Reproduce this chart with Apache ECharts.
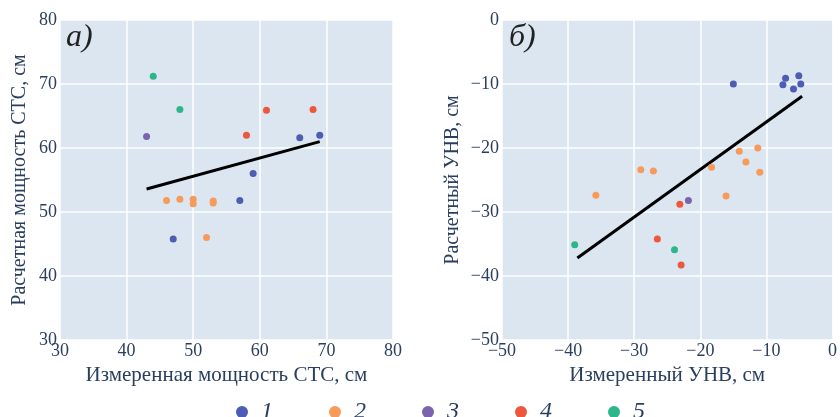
<!DOCTYPE html>
<html>
<head>
<meta charset="utf-8">
<script src="https://cdn.jsdelivr.net/npm/echarts@6/dist/echarts.min.js"></script>
<style>
  html, body { margin: 0; padding: 0; background: #fff; }
  #chart { width: 840px; height: 417px; }
</style>
</head>
<body>
<div id="chart"></div>
<script>
var groupNames = ['1', '2', '3', '4', '5'];
var groupColors = ['#4c5db3', '#f89a5a', '#7c63b0', '#ee573b', '#2cb68a'];

// a) мощность СТС, [измеренная, расчетная]
var stsG1 = [[47, 45.8], [57, 51.8], [59, 56], [66, 61.6], [69, 62]];
var stsG2 = [[46, 51.8], [48, 52], [50, 52], [50, 51.3], [52, 46], [53, 51.7], [53, 51.4]];
var stsG3 = [[43, 61.8]];
var stsG4 = [[58, 62], [61, 65.9], [68, 66]];
var stsG5 = [[44, 71.2], [48, 66]];
var stsFit = [[43, 53.6], [69, 61]];

// б) УНВ, [измеренный, расчетный]
var unvG1 = [[-15, -10], [-7.5, -10.1], [-7.1, -9.1], [-5.9, -10.8], [-5.1, -8.7], [-4.8, -10]];
var unvG2 = [[-35.8, -27.4], [-29, -23.4], [-27.1, -23.6], [-18.3, -23], [-16.1, -27.5],
             [-14.1, -20.5], [-13.1, -22.2], [-11.3, -20], [-11, -23.8]];
var unvG3 = [[-21.8, -28.2]];
var unvG4 = [[-23.1, -28.8], [-26.5, -34.2], [-22.9, -38.3]];
var unvG5 = [[-39, -35.1], [-23.9, -35.9]];
var unvFit = [[-38.6, -37.2], [-4.6, -11.9]];

var stsGroups = [stsG1, stsG2, stsG3, stsG4, stsG5];
var unvGroups = [unvG1, unvG2, unvG3, unvG4, unvG5];

var textColor = '#2a3f5f';
var serif = '"Liberation Serif", "DejaVu Serif", serif';

function minusFmt(v) {
    return String(v).replace('-', '\u2212');
}

function makeAxis(gi, min, max, name, gap, isY) {
    return {
        type: 'value',
        gridIndex: gi,
        min: min,
        max: max,
        interval: 10,
        name: name,
        nameLocation: 'middle',
        nameGap: gap,
        nameTextStyle: { color: textColor, fontFamily: serif, fontSize: isY ? 20 : 21 },
        axisLine: { show: false },
        axisTick: { show: false },
        splitLine: { show: true, lineStyle: { color: '#ffffff', width: 1.5 } },
        axisLabel: {
            color: textColor,
            fontFamily: serif,
            fontSize: 18,
            margin: isY ? 3 : 2,
            formatter: minusFmt
        }
    };
}

var series = [];
groupNames.forEach(function (n, i) {
    series.push({
        name: n, type: 'scatter', xAxisIndex: 0, yAxisIndex: 0,
        data: stsGroups[i], symbolSize: 7,
        itemStyle: { color: groupColors[i], opacity: 1 }
    });
    series.push({
        name: n, type: 'scatter', xAxisIndex: 1, yAxisIndex: 1,
        data: unvGroups[i], symbolSize: 7,
        itemStyle: { color: groupColors[i], opacity: 1 }
    });
});
series.push({
    type: 'line', xAxisIndex: 0, yAxisIndex: 0, data: stsFit,
    symbol: 'none', lineStyle: { color: '#000', width: 3 }, z: 1
});
series.push({
    type: 'line', xAxisIndex: 1, yAxisIndex: 1, data: unvFit,
    symbol: 'none', lineStyle: { color: '#000', width: 3 }, z: 1
});

var myChart = echarts.init(document.getElementById('chart'));
var option = {
    animation: false,
    grid: [
        { left: 60, top: 20, width: 333, height: 320, show: true, backgroundColor: '#dce6f1', borderWidth: 0 },
        { left: 502, top: 20, width: 334, height: 320, show: true, backgroundColor: '#dce6f1', borderWidth: 0 }
    ],
    xAxis: [
        makeAxis(0, 30, 80, 'Измеренная мощность СТС, см', 25, false),
        makeAxis(1, -50, 0, 'Измеренный УНВ, см', 25, false)
    ],
    yAxis: [
        makeAxis(0, 30, 80, 'Расчетная мощность СТС, см', 30, true),
        makeAxis(1, -50, 0, 'Расчетный УНВ, см', 39, true)
    ],
    legend: {
        data: groupNames,
        left: 231,
        top: 395,
        icon: 'circle',
        itemWidth: 12,
        itemHeight: 12,
        itemGap: 56,
        textStyle: { color: textColor, fontFamily: serif, fontSize: 24, fontStyle: 'italic', padding: [0, 0, 0, 8] }
    },
    graphic: [
        { type: 'text', left: 66, top: 22, style: { text: 'a)', font: 'italic 32px ' + serif, fill: '#222' } },
        { type: 'text', left: 509, top: 22, style: { text: 'б)', font: 'italic 32px ' + serif, fill: '#222' } }
    ],
    series: series
};
myChart.setOption(option);
</script>
</body>
</html>
